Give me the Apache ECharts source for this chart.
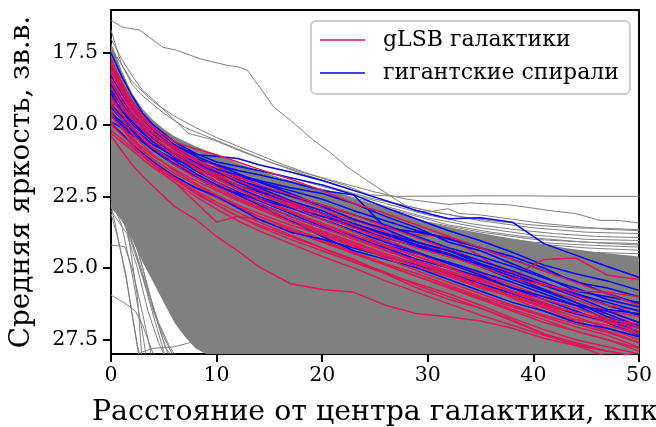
<!DOCTYPE html>
<html><head><meta charset="utf-8">
<script src="https://cdn.jsdelivr.net/npm/echarts@6/dist/echarts.min.js"></script>
<style>html,body{margin:0;padding:0;background:#fff}#c{width:656px;height:427px}</style>
</head><body><div id="c"></div>
<script>
// ---------- DATA ----------
const xTicks = [0, 10, 20, 30, 40, 50];
const yTicks = [17.5, 20.0, 22.5, 25.0, 27.5];
const redName = 'gLSB галактики';
const blueName = 'гигантские спирали';

// common radius grid (kpc) for the coloured profiles
const kpcGrid = [0,1,2,3,4,6,8,10,12,14,17,20,23,26,29,32,35,38,41,44,47,50];

// gLSB galaxies: mean surface brightness at kpcGrid (mag/arcsec^2)
const gLSB = [
 [20.4,20.9,21.4,21.8,22.15,22.85,23.3,23.9,24.4,24.95,25.55,25.75,25.85,26.3,26.6,26.7,26.85,27.1,27.45,27.7,27.9,28.1],
 [19.2,19.8,20.4,20.9,21.3,21.9,22.4,22.8,23.2,23.5,23.9,24.3,24.7,25.2,25.7,26.1,26.4,26.8,27.3,27.6,27.9,28.1],
 [18.6,19.2,19.7,20.1,20.5,21.0,21.4,21.7,22.0,22.25,22.65,23.0,23.35,23.6,23.85,23.9,24.6,25.3,24.7,24.65,25.25,25.4],
 [17.7,18.5,19.2,19.7,20.1,20.7,21.1,21.45,21.8,22.1,22.5,22.9,23.3,23.75,24.1,24.5,24.95,25.3,25.75,26.1,26.5,26.9],
 [18.0,18.7,19.3,19.8,20.2,20.8,21.3,21.7,22.0,22.3,22.75,23.2,23.6,24.0,24.45,24.85,25.2,25.6,26.0,26.3,26.6,27.0],
 [19.5,20.0,20.5,20.9,21.2,21.7,22.1,22.5,22.85,23.2,23.6,24.0,24.45,24.85,25.2,25.6,26.0,26.35,26.7,27.05,27.35,27.76],
 [18.3,18.9,19.5,19.9,20.3,20.9,21.35,21.8,22.2,22.55,23.0,23.45,23.9,24.3,24.75,25.15,25.5,25.9,26.3,26.6,26.9,27.3],
 [19.9,20.3,20.7,21.0,21.3,21.8,22.2,22.55,22.9,23.2,23.65,24.05,24.5,24.9,25.3,25.65,26.05,26.45,26.8,27.2,27.5,27.9],
 [18.9,19.4,19.9,20.3,20.6,21.1,21.5,21.85,22.15,22.4,22.8,23.2,23.6,24.05,24.5,24.95,25.35,25.7,26.0,26.3,26.5,26.7],
 [19.6,20.1,20.6,21.0,21.4,22.0,22.7,23.4,23.2,23.3,23.7,24.1,24.5,24.9,25.3,25.7,26.1,26.5,26.9,27.2,27.5,27.8],
 [18.4,19.0,19.6,20.0,20.4,21.0,21.55,22.0,22.4,22.75,23.2,23.6,24.0,24.4,24.75,25.1,25.45,25.8,26.2,26.6,26.9,27.2],
 [20.2,20.5,20.8,21.1,21.4,21.9,22.35,22.8,23.2,23.55,24.0,24.4,24.8,25.2,25.55,25.9,26.3,26.75,27.15,27.5,27.75,28.0],
 [17.9,18.6,19.25,19.75,20.15,20.75,21.2,21.55,21.85,22.1,22.45,22.8,23.15,23.55,23.95,24.35,24.75,25.15,25.55,25.95,26.3,26.48],
 [19.0,19.6,20.1,20.5,20.85,21.4,21.85,22.25,22.6,22.9,23.35,23.75,24.15,24.55,24.95,25.3,25.65,26.0,26.35,26.7,27.1,27.5],
 [18.7,19.3,19.8,20.2,20.55,21.1,21.5,21.9,22.25,22.6,23.05,23.5,23.95,24.35,24.8,25.2,25.6,26.05,26.5,26.85,27.2,27.6],
 [19.3,19.8,20.3,20.7,21.05,21.6,22.05,22.45,22.8,23.1,23.5,23.85,24.25,24.6,24.95,25.3,25.7,26.0,26.4,26.8,27.0,27.3],
 [18.2,18.85,19.45,19.9,20.3,20.85,21.25,21.6,21.95,22.25,22.7,23.1,23.5,23.9,24.3,24.6,24.95,25.35,25.6,25.8,25.85,26.0],
 [20.0,20.35,20.7,21.05,21.35,21.85,22.3,22.7,23.05,23.4,23.85,24.3,24.75,25.15,25.6,26.0,26.4,26.85,27.3,27.7,28.1,null],
 [18.5,19.15,19.7,20.1,20.45,21.0,21.4,21.75,22.1,22.4,22.85,23.3,23.75,24.2,24.6,25.0,25.4,25.85,26.25,26.55,26.85,27.1],
 [19.7,20.1,20.5,20.8,21.1,21.55,21.95,22.3,22.65,22.95,23.4,23.8,24.2,24.65,25.1,25.5,25.9,26.3,26.65,26.95,27.25,27.6],
 [18.1,18.75,19.35,19.85,20.25,20.9,21.4,21.85,22.25,22.6,23.05,23.45,23.85,24.25,24.6,25.0,25.4,25.8,26.1,26.4,26.75,27.05],
 [19.1,19.6,20.05,20.45,20.8,21.3,21.75,22.15,22.55,22.85,23.3,23.7,24.1,24.5,24.85,25.25,25.6,25.95,26.3,26.55,26.8,26.95],
 [17.8,18.5,19.2,19.7,20.1,20.6,20.85,21.05,21.3,21.55,21.9,22.3,22.75,23.1,23.5,23.9,24.3,24.7,25.1,25.5,25.9,26.3],
 [20.3,20.6,20.9,21.2,21.5,22.0,22.5,22.95,23.35,23.7,24.15,24.6,25.0,25.45,25.85,26.25,26.65,27.0,27.35,27.65,27.9,null]
];

// giant spirals: mean surface brightness at kpcGrid
const giants = [
 [18.2,18.8,19.4,19.8,20.2,20.7,21.05,21.1,21.18,21.4,21.65,21.95,22.3,22.65,23.0,23.28,23.25,23.4,24.15,24.55,24.95,25.32],
 [17.5,18.3,19.0,19.6,20.0,20.6,21.0,21.3,21.45,21.6,21.85,22.1,22.45,22.9,23.3,23.7,24.05,24.45,24.9,25.2,25.45,25.78],
 [18.0,18.7,19.3,19.8,20.2,20.8,21.2,21.4,21.6,21.75,22.0,22.3,22.45,23.6,23.75,23.95,24.3,24.6,25.0,25.5,25.7,26.0],
 [18.5,19.1,19.6,20.0,20.35,20.85,21.25,21.55,21.8,22.0,22.3,22.6,23.0,23.35,23.7,24.0,24.3,24.7,25.1,25.45,25.9,26.24],
 [19.3,19.7,20.1,20.4,20.7,21.1,21.45,21.7,21.95,22.15,22.5,22.8,23.15,23.5,23.9,24.3,24.6,24.95,25.35,25.7,26.1,26.36],
 [19.9,20.1,20.35,20.6,20.85,21.2,21.5,21.8,22.1,22.35,22.7,23.1,23.45,23.8,24.2,24.5,24.9,25.3,25.6,25.9,26.3,26.65],
 [18.8,19.3,19.8,20.2,20.5,21.0,21.35,21.65,21.9,22.2,22.65,23.0,23.5,23.85,24.2,24.55,24.95,25.4,25.8,26.2,26.6,27.06],
 [17.9,18.6,19.2,19.7,20.1,20.7,21.1,21.4,21.7,22.0,22.4,22.85,23.3,23.65,24.1,24.4,24.85,25.2,25.6,26.0,26.45,26.6],
 [19.6,19.9,20.2,20.5,20.8,21.25,21.7,22.1,22.45,22.75,23.2,23.6,23.9,24.2,24.5,24.8,25.15,25.5,25.9,26.3,26.8,27.23],
 [18.3,18.9,19.4,19.85,20.2,20.75,21.2,21.6,22.0,22.3,22.7,23.1,23.55,23.95,24.25,24.6,24.9,25.3,25.75,26.2,26.7,27.1],
 [19.0,19.5,19.9,20.25,20.6,21.15,21.6,22.0,22.35,22.65,23.1,23.55,23.9,24.3,24.7,25.0,25.3,25.7,26.1,26.5,26.9,27.35],
 [20.0,20.3,20.7,21.0,21.3,21.8,22.2,22.5,22.9,23.3,23.75,24.0,24.3,24.6,24.9,25.2,25.55,25.9,26.25,26.6,26.85,27.0],
 [18.6,19.2,19.7,20.1,20.5,21.0,21.45,21.85,22.2,22.5,22.9,23.3,23.7,24.1,24.45,24.85,25.25,25.7,26.0,26.3,26.5,26.9],
 [19.4,19.8,20.2,20.55,20.9,21.4,21.8,22.15,22.4,22.6,22.9,23.2,23.5,23.8,24.1,24.4,24.75,25.1,25.5,25.9,26.2,26.5],
 [18.9,19.5,20.0,20.3,20.6,21.0,21.3,21.55,21.75,21.95,22.2,22.4,22.75,23.2,23.6,24.1,24.4,24.85,25.3,25.8,26.0,26.2],
 [19.7,20.0,20.3,20.6,20.9,21.35,21.75,22.1,22.45,22.8,23.35,23.9,24.4,24.7,25.0,25.4,25.8,26.2,26.5,26.9,27.1,27.4]
];

// dense comparison sample: outline of the filled grey mass [kpc, mag]
const massTop = [[0,17.15],[0.5,17.6],[1,18.1],[1.5,18.5],[2,18.9],[3,19.45],[4,19.85],[5,20.15],[6,20.4],[8,20.75],[10,21.05],[12,21.35],[14,21.6],[16,21.85],[18,22.05],[20,22.25],[22,22.45],[25,22.8],[28,23.15],[30,23.4],[33,23.65],[36,23.85],[40,24.1],[43,24.3],[46,24.45],[50,24.6]];
const massBottom = [[50,28],[9,28],[8,27.8],[7,27.4],[6,26.9],[5,26.2],[4,25.5],[3,24.8],[2,24.0],[1,23.3],[0,22.9]];

// individual comparison profiles visible outside the mass [kpc, mag]
const grayUpper = [
 [[0,16.36],[1.1,16.6],[2.7,16.7],[4.9,17.3],[6.2,17.4],[8.4,17.7],[11,17.93],[12.2,18.0],[12.9,18.1],[14.1,18.7],[15.4,19.38],[17,19.85],[19.2,20.55],[20.7,20.95],[22.3,21.45],[24.2,21.94],[25.5,22.25],[27.1,22.64],[28.6,22.98],[30,23.05],[31.9,22.93],[33,23.1],[35,23.15],[38,23.3],[41,23.45],[44,23.55],[47,23.65],[50,23.7]],
 [[0,17.3],[1,17.9],[2,18.5],[4,19.2],[6,19.7],[8,20.1],[10,20.45],[13,20.9],[16,21.35],[19,21.75],[22,22.1],[24.5,22.45],[27,22.5],[32,22.49],[38,22.48],[44,22.5],[50,22.5]],
 [[0,16.7],[0.5,17.3],[1,17.9],[2,18.6],[3,19.0],[5,19.6],[7,20.1],[9,20.4],[12,20.85],[15,21.3],[18,21.65],[21,21.95],[25,22.35],[28,22.6],[32,22.78],[34,22.73],[37.8,22.8],[41.6,23.0],[44,23.1],[46.3,23.34],[48,23.34],[50,23.43]],
 [[0,17.0],[1,17.7],[2,18.3],[3,18.8],[4.5,19.3],[7.3,20.3],[9.85,20.55],[12.1,20.9],[15,21.3],[18,21.7],[21,22.05],[24,22.4],[27,22.75],[30,23.0],[33,23.2],[36,23.35],[40,23.5],[44,23.6],[47,23.62],[50,23.66]],
 [[15,21.7],[20,22.1],[25,22.6],[30,23.0],[35,23.35],[40,23.6],[45,23.75],[50,23.8]],
 [[18,21.95],[22,22.35],[26,22.75],[30,23.15],[34,23.45],[38,23.65],[42,23.8],[46,23.9],[50,23.94]],
 [[16,21.9],[20,22.25],[25,22.75],[30,23.25],[35,23.6],[40,23.85],[45,24.0],[50,24.04]],
 [[20,22.4],[25,22.9],[30,23.4],[35,23.75],[40,24.0],[45,24.1],[50,24.15]],
 [[22,22.6],[26,23.0],[30,23.45],[35,23.85],[40,24.1],[45,24.2],[50,24.27]],
 [[24,22.85],[28,23.3],[32,23.65],[36,23.95],[40,24.15],[45,24.3],[50,24.38]],
 [[20,22.3],[24,22.7],[28,23.1],[32,23.5],[36,23.75],[40,23.95],[45,24.1],[50,24.2]],
 [[26,23.2],[30,23.6],[35,24.0],[40,24.25],[45,24.45],[50,24.5]]
];
const grayFan = [
 [[0,22.6],[1,23.5],[2,25.2],[3,27.3],[3.3,28]],
 [[0,22.8],[0.7,24.0],[1.5,25.5],[2.3,27.3],[2.6,28]],
 [[0,23.0],[1.5,23.8],[2.5,25.0],[3.5,26.5],[4.5,27.6],[5,28]],
 [[0,25.95],[1.2,26.2],[2.3,26.5],[3,27.0],[3.6,27.6],[4,28]],
 [[0,22.7],[1.5,23.3],[2.5,24.3],[3.5,25.7],[4.5,27.0],[5.2,27.8],[5.6,28]],
 [[0,22.5],[1,22.9],[2,23.8],[3,25.0],[4,26.4],[5,27.6],[5.4,28]],
 [[0,24.2],[1.3,24.25],[2,25.0],[3,26.6],[3.8,28]],
 [[2.8,27.95],[4,27.8],[6,27.75],[7.5,27.6],[9,27.95]],
 [[0,22.9],[1,23.2],[2,24.2],[3,25.3],[4,26.5],[5,27.4],[5.8,28]],
 [[0,22.8],[1.5,23.6],[2.5,24.6],[3.5,25.8],[4.5,26.9],[5.5,27.7],[6,28]],
 [[0,22.55],[1.2,23.2],[2.2,24.3],[3.2,25.6],[4.2,26.9],[5,27.9],[5.1,28]],
 [[0,22.6],[1,22.8],[1.5,23.5],[2.5,26],[2.9,28]],
 [[0,23.1],[0.6,23.9],[1.4,25.2],[2,26.6],[2.5,27.7],[2.7,28]]
];

// ---------- CHART ----------
const FONT = 'DejaVu Serif';
const GRAY = '#808080', RED = '#dc1659', BLUE = '#0000ff';
const chart = echarts.init(document.getElementById('c'), null, {renderer: 'canvas'});
const series = [];
const massPoly = massTop.concat(massBottom);
series.push({
  type: 'custom', name: 'mass', silent: true, z: 1, clip: true,
  data: [[0, 22]],
  renderItem: function (params, api) {
    return {type: 'polygon', shape: {points: massPoly.map(p => api.coord(p))}, style: {fill: GRAY}};
  }
});
grayUpper.concat(grayFan).forEach((ln, i) => series.push({
  type: 'line', name: 'gray' + i, data: ln, symbol: 'none', silent: true, z: 2,
  lineStyle: {color: GRAY, width: 1}
}));
const n = Math.max(gLSB.length, giants.length);
for (let k = 0; k < n; k++) {
  if (k < giants.length) series.push({
    type: 'line', name: blueName, symbol: 'none', z: 3, silent: true,
    data: kpcGrid.map((x, i) => [x, giants[k][i]]),
    lineStyle: {color: BLUE, width: 1.5}, itemStyle: {color: BLUE}
  });
  if (k < gLSB.length) series.push({
    type: 'line', name: redName, symbol: 'none', z: 3, silent: true,
    data: kpcGrid.map((x, i) => [x, gLSB[k][i]]),
    lineStyle: {color: RED, width: 1.5}, itemStyle: {color: RED}
  });
}

chart.setOption({
  animation: false,
  backgroundColor: '#fff',
  grid: {left: 111, right: 17, top: 10, bottom: 73, containLabel: false, outerBoundsMode: 'none',
    show: true, borderColor: '#000', borderWidth: 2, backgroundColor: 'transparent'},
  legend: {
    data: [redName, blueName], orient: 'vertical', left: 311, top: 21,
    icon: 'rect', itemWidth: 45, itemHeight: 1.6, itemGap: 11,
    padding: [8, 11, 10, 9],
    backgroundColor: 'rgba(255,255,255,0.85)', borderColor: '#cccccc', borderWidth: 2, borderRadius: 5,
    textStyle: {fontFamily: FONT, fontSize: 22, color: '#000', padding: [0, 0, 0, 13]}
  },
  xAxis: {
    type: 'value', min: 0, max: 50, interval: 10,
    name: 'Расстояние от центра галактики, кпк', nameLocation: 'middle', nameGap: 45,
    nameTextStyle: {fontFamily: FONT, fontSize: 28.4, color: '#000'},
    axisLine: {show: true, onZero: false, lineStyle: {color: '#000', width: 2}},
    axisTick: {show: true, length: 8, lineStyle: {color: '#000', width: 2}},
    axisLabel: {fontFamily: FONT, fontSize: 20.5, color: '#000', margin: 11, customValues: xTicks},
    splitLine: {show: false}
  },
  yAxis: {
    type: 'value', min: 16, max: 28, inverse: true,
    name: 'Средняя яркость, зв.в.', nameLocation: 'middle', nameGap: 75, nameRotate: 90,
    nameTextStyle: {fontFamily: FONT, fontSize: 27.8, color: '#000'},
    axisLine: {show: true, onZero: false, lineStyle: {color: '#000', width: 2}},
    axisTick: {show: true, length: 8, lineStyle: {color: '#000', width: 2}, customValues: yTicks},
    axisLabel: {fontFamily: FONT, fontSize: 20.5, color: '#000', margin: 13, customValues: yTicks,
      formatter: v => Number(v).toFixed(1)},
    splitLine: {show: false}
  },
  series: series
});
</script></body></html>
